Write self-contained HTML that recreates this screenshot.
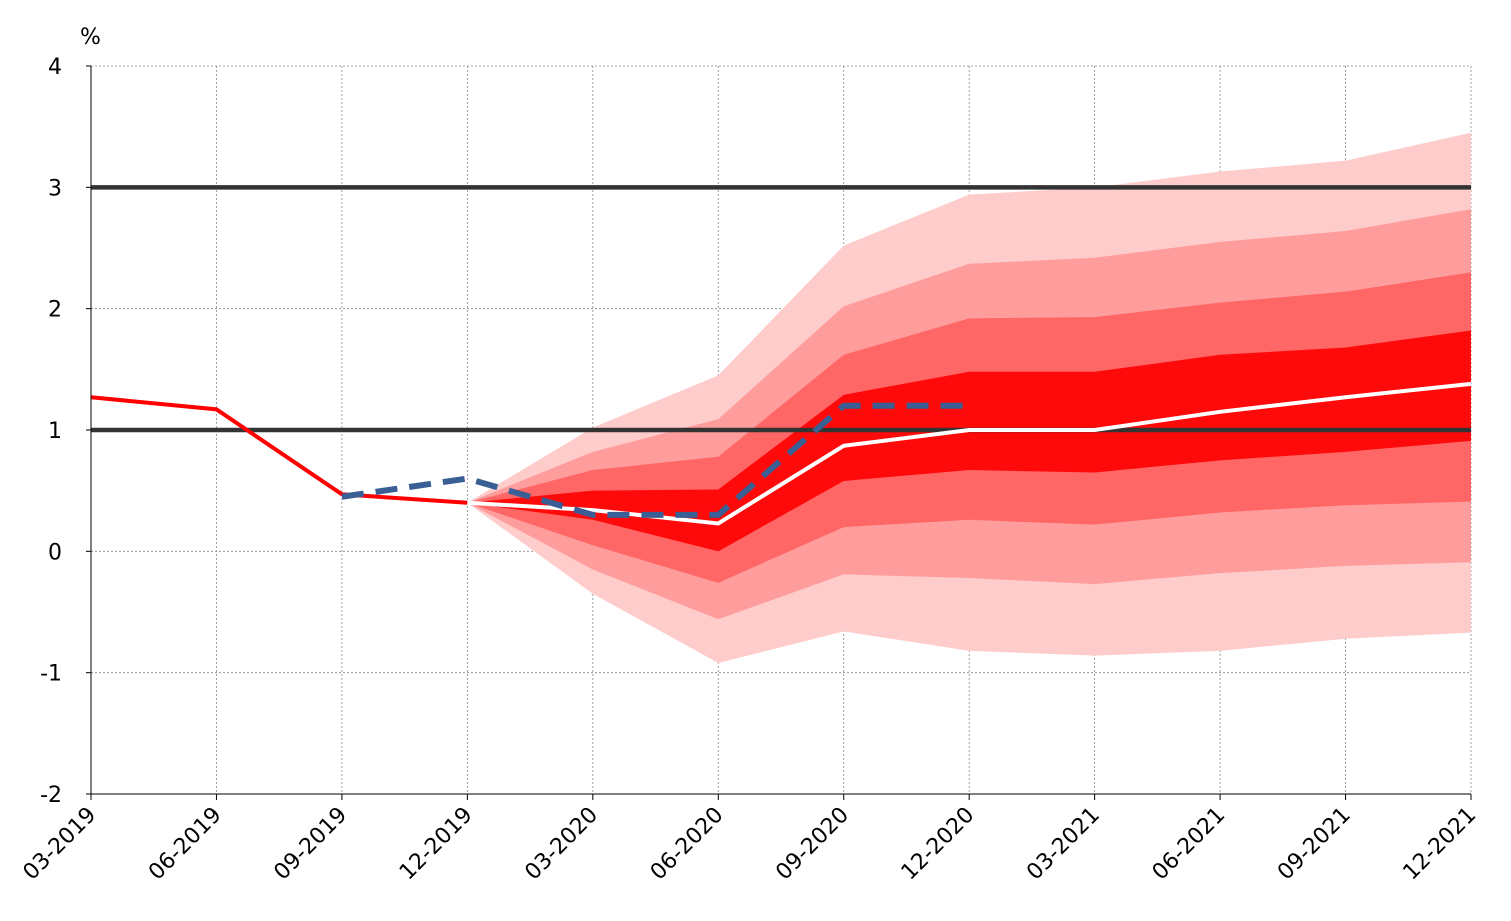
<!DOCTYPE html>
<html><head><meta charset="utf-8"><style>
body{margin:0;background:#fff;}
svg{display:block;font-family:"DejaVu Sans","Liberation Sans",sans-serif;}
</style></head><body>
<svg id="chart" width="1511" height="921" viewBox="0 0 1511 921" xmlns="http://www.w3.org/2000/svg"></svg>
<script>
const categories=["03-2019","06-2019","09-2019","12-2019","03-2020","06-2020","09-2020","12-2020","03-2021","06-2021","09-2021","12-2021"];
const yTicks=[4,3,2,1,0,-1,-2];
const actual=[1.27,1.17,0.47,0.40];
const previousForecast=[null,null,0.45,0.60,0.30,0.30,1.20,1.20];
const central=[null,null,null,0.40,0.34,0.23,0.87,1.0,1.0,1.15,1.27,1.38];
const band90Upper=[null,null,null,0.40,1.02,1.45,2.52,2.94,3.0,3.13,3.22,3.45];
const band90Lower=[null,null,null,0.40,-0.35,-0.92,-0.66,-0.82,-0.86,-0.82,-0.72,-0.67];
const band70Upper=[null,null,null,0.40,0.82,1.09,2.02,2.37,2.42,2.55,2.64,2.82];
const band70Lower=[null,null,null,0.40,-0.15,-0.56,-0.19,-0.22,-0.27,-0.18,-0.12,-0.09];
const band50Upper=[null,null,null,0.40,0.67,0.78,1.62,1.92,1.93,2.05,2.14,2.30];
const band50Lower=[null,null,null,0.40,0.05,-0.26,0.20,0.26,0.22,0.32,0.38,0.41];
const band30Upper=[null,null,null,0.40,0.50,0.51,1.29,1.48,1.48,1.62,1.68,1.82];
const band30Lower=[null,null,null,0.40,0.26,0.00,0.58,0.67,0.65,0.75,0.82,0.91];
const targetLines=[3,1];

const X0=91,X1=1471,Y0=66,Y1=794,YMAX=4,YMIN=-2;
const xs=i=>X0+(X1-X0)*i/(categories.length-1);
const ys=v=>Y0+(YMAX-v)*(Y1-Y0)/(YMAX-YMIN);
const svg=document.getElementById('chart');
const NS="http://www.w3.org/2000/svg";
function mk(t,a,p){const e=document.createElementNS(NS,t);for(const k in a)e.setAttribute(k,a[k]);(p||svg).appendChild(e);return e;}

// grid
yTicks.forEach(v=>{
 const l=mk('line',{x1:X0,x2:X1,y1:ys(v),y2:ys(v),stroke:'#888','stroke-width':0.8,'stroke-dasharray':'2,2'});
 
 
});
categories.forEach((c,i)=>{
 const l=mk('line',{x1:xs(i),x2:xs(i),y1:Y0,y2:Y1,stroke:'#888','stroke-width':0.8,'stroke-dasharray':'2,2'});
 
 
});

function band(up,lo,color,name){
 const pts=[];
 up.forEach((v,i)=>{if(v!=null)pts.push(xs(i)+','+ys(v));});
 for(let i=lo.length-1;i>=0;i--)if(lo[i]!=null)pts.push(xs(i)+','+ys(lo[i]));
 const p=mk('polygon',{points:pts.join(' '),fill:color});
 
 
}
band(band90Upper,band90Lower,'#ffcccc','fan-band-90');
band(band70Upper,band70Lower,'#ff9d9d','fan-band-70');
band(band50Upper,band50Lower,'#ff6666','fan-band-50');
band(band30Upper,band30Lower,'#ff0a0a','fan-band-30');

targetLines.forEach(v=>{
 const l=mk('line',{x1:X0,x2:X1,y1:ys(v),y2:ys(v),stroke:'#333','stroke-width':4.5});
 
 
});

function line(arr,attrs,name){
 const pts=[];arr.forEach((v,i)=>{if(v!=null)pts.push(xs(i)+','+ys(v));});
 const p=mk('polyline',Object.assign({points:pts.join(' '),fill:'none'},attrs));
 
 
}
line(actual,{stroke:'#ff0000','stroke-width':4},'actual-line');
line(central,{stroke:'#fff','stroke-width':4},'central-forecast-line');
line(previousForecast,{stroke:'#3a5f94','stroke-width':6,'stroke-dasharray':'22,12'},'previous-forecast-line');

// axes
const ax=mk('line',{x1:X0,x2:X0,y1:Y0,y2:Y1,stroke:'#000','stroke-width':1});

const bx=mk('line',{x1:X0,x2:X1,y1:Y1,y2:Y1,stroke:'#000','stroke-width':1});


yTicks.forEach(v=>{
 const t=mk('text',{x:62,y:ys(v)+8,'text-anchor':'end','font-size':22,fill:'#000'});
 t.textContent=v;
 
 
 mk('line',{x1:X0-5,x2:X0,y1:ys(v),y2:ys(v),stroke:'#000'});
});
categories.forEach((c,i)=>{
 mk('line',{x1:xs(i),x2:xs(i),y1:Y1,y2:Y1+6,stroke:'#000'});
 const t=mk('text',{x:xs(i)+6,y:Y1+22,'text-anchor':'end','font-size':22,fill:'#000',transform:`rotate(-45 ${xs(i)+6} ${Y1+22})`});
 t.textContent=c;
 
 
});
const u=mk('text',{x:80,y:44,'font-size':22,fill:'#000'});
u.textContent='%';


</script>
</body></html>
